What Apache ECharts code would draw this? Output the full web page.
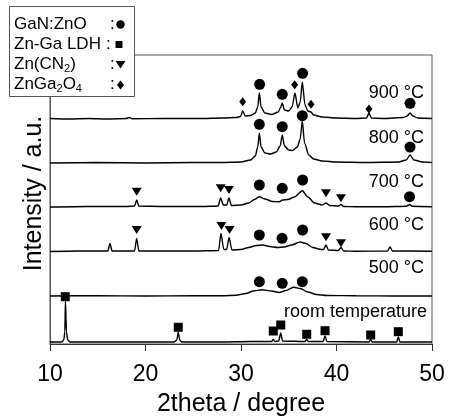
<!DOCTYPE html>
<html><head><meta charset="utf-8">
<script src="https://cdn.jsdelivr.net/npm/echarts@6/dist/echarts.min.js"></script>
<style>html,body{margin:0;padding:0;background:#fff}#c{width:449px;height:418px}</style>
</head><body><div id="c"></div>
<script>
// ---- data (2theta, intensity above each trace's baseline, a.u.) ----
const traceNames = ['room temperature', '500 °C', '600 °C', '700 °C', '800 °C', '900 °C'];
const traceOffsets = [2, 48, 92.5, 137, 181, 225];

const tRoom = [[10,0],[11.2,0],[11.45,2],[11.55,10],[11.62,41],[11.72,10],[11.85,2],[12.1,0],[15,0],[20,0],[23.0,0],[23.28,2],[23.43,10],[23.58,2],[23.8,0],[28,0],[31,0.5],[33.2,0.5],[33.38,2.5],[33.55,0.5],[33.95,1],[34.16,9],[34.35,1],[36.7,0.5],[36.88,2.5],[37.05,0.5],[38.6,0.5],[38.8,6],[39.0,0.5],[43.4,0],[43.58,2.5],[43.75,0],[46.3,0],[46.47,5],[46.65,0],[50,0]];
const t500 = [[10,0],[15,0.3],[20,0],[25,0.3],[28,0.3],[29.5,0.8],[30.5,2.5],[31.3,5],[32.2,6.3],[33.2,5],[34.0,3.5],[34.7,5.5],[35.5,8.7],[36.2,7.5],[37.0,4],[37.9,1.5],[39,0.5],[42,0.2],[46,0],[50,0]];
const t600 = [[10,0],[13,0.5],[16.05,0.5],[16.28,8],[16.5,0.5],[18.85,0.5],[19.08,13],[19.3,0.5],[22,0.5],[25,0.5],[27.65,1],[27.9,18],[28.2,2],[28.5,2],[28.75,14],[29.05,1.5],[30,2],[30.8,4],[31.6,6],[32.3,6.5],[33.0,5],[33.8,4],[34.5,4.5],[35.3,6.5],[36.2,9.5],[36.8,8],[37.5,4],[38.4,2],[38.65,2],[38.9,6.5],[39.15,1.5],[40.2,1],[40.47,4],[40.75,0.5],[42,0.3],[45.35,0.5],[45.6,4.5],[45.85,0.5],[50,0.3]];
const t700 = [[10,0],[14,0.5],[18,0.5],[18.85,1],[19.08,7],[19.3,1],[22,0.5],[26,0.5],[27.6,1],[27.87,9],[28.15,2],[28.5,2],[28.74,9],[29.0,1.5],[30,2],[30.8,4],[31.4,7.5],[31.92,10.3],[32.5,8],[33.3,5.5],[34.0,5.3],[34.35,7],[34.9,7.5],[35.6,10],[36.42,16.3],[37.0,10],[37.7,4],[38.5,2],[38.9,4],[39.3,1.5],[40.2,1],[40.47,2.5],[40.75,0.5],[42,0.3],[45,0.3],[47.3,0.8],[47.65,2.5],[47.95,0.8],[50,0.3]];
const t800 = [[10,0],[15,0.5],[20,0],[25,0.5],[28,0.5],[30,1],[31.0,3],[31.5,7],[31.75,16],[31.92,29.7],[32.1,16],[32.5,10],[33.1,9],[33.7,11],[34.1,17],[34.32,28],[34.55,17],[35.0,13],[35.4,12.5],[35.9,16],[36.2,24],[36.42,42],[36.65,20],[37.1,8],[37.6,4],[38.5,2],[40,1],[43,0.5],[46.5,1],[47.3,3],[47.7,8],[48.1,3],[49,1],[50,0.5]];
const t900 = [[10,0.5],[12,0],[14,0.5],[16,0],[18,0.5],[18.3,1.5],[18.6,0.3],[22,0.5],[26,0.5],[28,1],[29.5,1.5],[29.95,2.5],[30.18,8],[30.45,3],[31.0,3.5],[31.5,6],[31.75,12],[31.92,26],[32.1,12],[32.5,6],[33.2,4.5],[33.9,7],[34.12,11],[34.32,16],[34.55,9],[35.0,8],[35.35,12],[35.65,26],[35.95,11],[36.2,17],[36.42,37],[36.7,14],[37.0,8],[37.33,7],[37.6,4],[38.5,2],[40,1],[42,0.5],[43.15,1],[43.4,6],[43.65,1],[45,0.5],[47.0,1.5],[47.4,3],[47.7,6],[48.0,3],[48.5,1],[50,0.5]];
const traces = [tRoom, t500, t600, t700, t800, t900];

// phase markers: [trace index, 2theta, height above that trace's baseline]
const markGaNZnO = [[1,31.92,14.3],[1,34.32,12.7],[1,36.42,14.3],[2,31.92,16.5],[2,34.3,13.2],[2,36.45,21.5],[3,31.92,22],[3,34.32,18.7],[3,36.45,27],[3,47.65,10.3],[4,31.92,38.7],[4,34.32,36.3],[4,36.42,47.3],[4,47.7,16],[5,31.95,34.7],[5,34.32,24.7],[5,36.45,45.7],[5,47.7,15.7]];
const markLDH = [[0,11.6,45.3],[0,23.43,14.7],[0,33.38,11],[0,34.16,17],[0,36.88,7.7],[0,38.8,11.3],[0,43.58,7],[0,46.47,10.3]];
const markZnCN2 = [[2,19.08,21.5],[2,27.95,25.5],[2,28.8,21.5],[2,38.9,14.2],[2,40.47,8.2],[3,19.08,15.3],[3,27.87,18.7],[3,28.74,17],[3,38.9,13.7],[3,40.47,8.7]];
const markZnGa2O4 = [[5,30.18,17.3],[5,35.62,34.3],[5,37.33,14.7],[5,43.4,10]];

const xTicks = [10, 20, 30, 40, 50];
const xTitle = '2theta / degree';
const yTitle = 'Intensity / a.u.';

// ---- chart ----
const FONT = 'Liberation Sans, Arial, Helvetica, sans-serif';
const chart = echarts.init(document.getElementById('c'), null, {renderer: 'canvas'});

const lineSeries = traces.map((t, i) => ({
  type: 'line', name: traceNames[i], showSymbol: false, symbol: 'none',
  smooth: 0.25, smoothMonotone: 'x', silent: true, z: 2,
  lineStyle: {color: '#000', width: 1.4},
  data: t.map(p => [p[0], p[1] + traceOffsets[i]])
}));
function markSeries(list, symbol, size, rotate) {
  return {
    type: 'scatter', symbol: symbol, symbolSize: size, symbolRotate: rotate || 0,
    itemStyle: {color: '#000', opacity: 1}, silent: true, z: 3,
    data: list.map(m => [m[1], m[2] + traceOffsets[m[0]]])
  };
}

const labelGraphics = traceNames.map((n, i) => ({
  type: 'text', z: 50,
  style: {text: n, fontSize: 18, fontFamily: FONT, fill: '#000', align: 'right', verticalAlign: 'middle',
          x: i === 0 ? 427 : 424, y: [311.7, 268, 225, 181.7, 138, 92.7][i]}
}));

const rich = {a: {fontSize: 17, fontFamily: FONT, color: '#000', lineHeight: 20},
              s: {fontSize: 11, fontFamily: FONT, color: '#000', verticalAlign: 'bottom', lineHeight: 20}};
const legendRows = [
  {t: '{a|GaN:ZnO}', c: 110, y: 24},
  {t: '{a|Zn-Ga LDH}', c: 106, y: 44},
  {t: '{a|Zn(CN}{s|2}{a|)}', c: 110, y: 64.3},
  {t: '{a|ZnGa}{s|2}{a|O}{s|4}', c: 110, y: 84.5}
];
const legendGraphics = [
  {type: 'rect', z: 100, shape: {x: 9.5, y: 6.5, width: 125, height: 90}, style: {fill: '#fff', stroke: '#555', lineWidth: 1}}
];
legendRows.forEach(r => {
  legendGraphics.push({type: 'text', z: 101, style: {text: r.t, rich: rich, x: 14, y: r.y, verticalAlign: 'middle', align: 'left'}});
  legendGraphics.push({type: 'text', z: 101, style: {text: ':', fontSize: 17, fontFamily: FONT, fill: '#000', x: r.c, y: r.y, verticalAlign: 'middle', align: 'left'}});
});
legendGraphics.push({type: 'circle', z: 101, shape: {cx: 120.5, cy: 24.5, r: 4.2}, style: {fill: '#000'}});
legendGraphics.push({type: 'rect', z: 101, shape: {x: 115.5, y: 41, width: 7, height: 7}, style: {fill: '#000'}});
legendGraphics.push({type: 'polygon', z: 101, shape: {points: [[115.5, 61], [125.5, 61], [120.5, 68.5]]}, style: {fill: '#000'}});
legendGraphics.push({type: 'polygon', z: 101, shape: {points: [[120.5, 80.5], [124, 85], [120.5, 89.5], [117, 85]]}, style: {fill: '#000'}});

chart.setOption({
  backgroundColor: '#fff',
  animation: false,
  grid: {left: 50, right: 17, top: 55, bottom: 74, containLabel: false, outerBoundsMode: 'none',
         show: true, borderColor: '#555', borderWidth: 1, backgroundColor: 'transparent'},
  xAxis: {
    type: 'value', min: xTicks[0], max: xTicks[xTicks.length - 1], interval: 10,
    name: xTitle, nameLocation: 'middle', nameGap: 48,
    nameTextStyle: {fontSize: 25, fontFamily: FONT, color: '#000'},
    axisLine: {lineStyle: {color: '#333', width: 1}},
    axisTick: {show: true, inside: false, length: 7, lineStyle: {color: '#333'}},
    axisLabel: {fontSize: 23, fontFamily: FONT, color: '#000', margin: 19},
    splitLine: {show: false}
  },
  yAxis: {
    type: 'value', min: 0, max: 289,
    axisLine: {show: true, lineStyle: {color: '#555', width: 1}},
    axisTick: {show: false}, axisLabel: {show: false}, splitLine: {show: false}
  },
  graphic: [
    {type: 'text', z: 50, rotation: Math.PI / 2, x: 34, y: 193.5,
     style: {text: yTitle, fontSize: 25, fontFamily: FONT, fill: '#000', align: 'center', verticalAlign: 'middle'}}
  ].concat(labelGraphics, legendGraphics),
  series: lineSeries.concat([
    markSeries(markGaNZnO, 'circle', 11),
    markSeries(markLDH, 'rect', 9),
    markSeries(markZnCN2, 'triangle', [10, 8], 180),
    markSeries(markZnGa2O4, 'diamond', [7, 9])
  ])
});
</script></body></html>
